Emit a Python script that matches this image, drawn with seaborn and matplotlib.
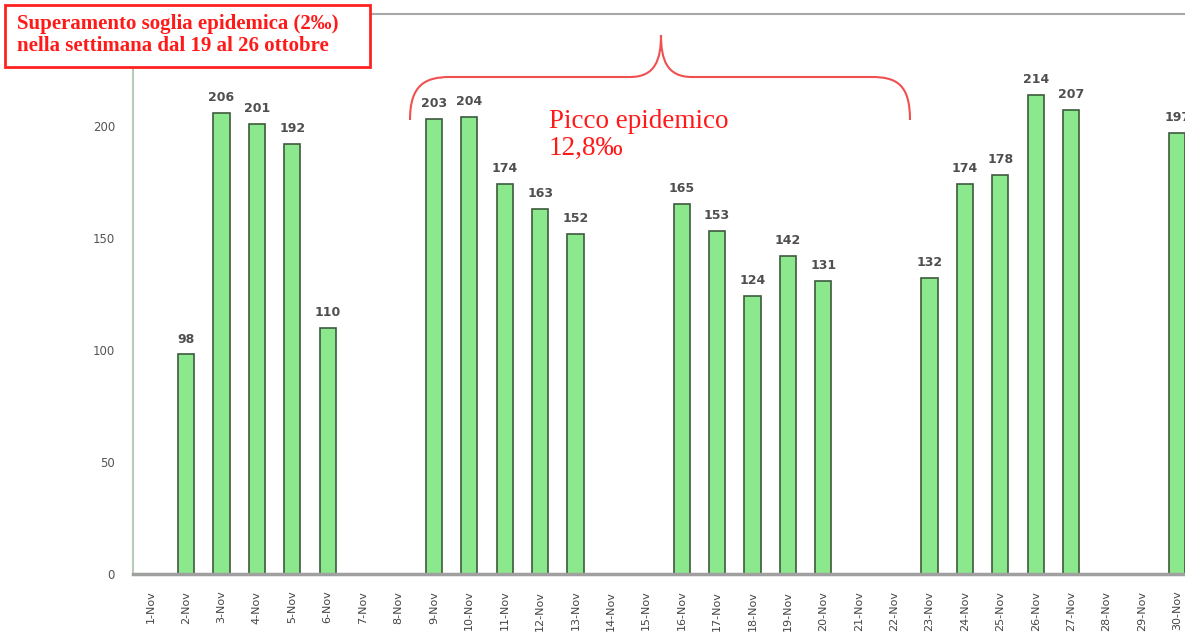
import numpy as np
import pandas as pd
import matplotlib
matplotlib.use("Agg")
import matplotlib.pyplot as plt
import matplotlib.patches as mpatches
from matplotlib.path import Path
import matplotlib.transforms as mtransforms
import seaborn as sns

# ---- data ----
days = [f"{d}-Nov" for d in range(1, 31)]
cases = [np.nan, 98, 206, 201, 192, 110, np.nan, np.nan, 203, 204,
         174, 163, 152, np.nan, np.nan, 165, 153, 124, 142, 131,
         np.nan, np.nan, 132, 174, 178, 214, 207, np.nan, np.nan, 197]
y_ticks = [0, 50, 100, 150, 200]
box_text = "Superamento soglia epidemica (2‰)\nnella settimana dal 19 al 26 ottobre"
peak_text = "Picco epidemico\n12,8‰"

df = pd.DataFrame({"day": days, "cases": cases})

sns.set_style("white")
plt.rcParams["font.family"] = ["DejaVu Sans"]

W, H = 1185, 637
fig = plt.figure(figsize=(W / 100, H / 100), dpi=100)
# axes spans pixel x 133..1195 (slightly beyond right edge), y 14..574
ax = fig.add_axes([133 / W, (H - 574) / H, (1195 - 133) / W, (574 - 14) / H])

sns.barplot(data=df, x="day", y="cases", order=days, ax=ax,
            color="#8ce88c", edgecolor="#3d5a3d", linewidth=1.2,
            width=0.46, saturation=1, errorbar=None)

for i, v in enumerate(cases):
    if not np.isnan(v):
        ax.text(i, v + 4, f"{int(v)}", ha="center", va="bottom",
                fontsize=9, color="#4f4f4f", fontweight="bold")

ax.set_xlim(-0.5, 29.5)
ax.set_ylim(0, 250)
ax.set_yticks(y_ticks)
ax.set_yticklabels([str(t) for t in y_ticks], fontsize=8.5, color="#555555")
ax.set_xticks(range(len(days)))
ax.set_xticklabels(days, rotation=90, fontsize=8, color="#444444")
ax.set_xlabel("")
ax.set_ylabel("")
ax.tick_params(axis="x", length=0, pad=12)
ax.tick_params(axis="y", length=3, width=1.2, color="#aaaaaa", direction="out", pad=10)
ax.set_xticks(np.arange(-0.5, 30, 1), minor=True)
ax.tick_params(axis="x", which="minor", length=4, width=1.2, color="#aaaaaa", direction="inout")

ax.spines["top"].set_color("#a8a8a8")
ax.spines["top"].set_linewidth(1.5)
ax.spines["left"].set_color("#b8ccb8")
ax.spines["left"].set_linewidth(1.5)
ax.spines["bottom"].set_color("#a0a0a0")
ax.spines["bottom"].set_linewidth(2.5)
ax.spines["right"].set_visible(False)
ax.grid(False)

# pixel transform (origin top-left)
px = mtransforms.Affine2D().scale(1 / W, -1 / H).translate(0, 1) + fig.transFigure

# curly brace
verts = [
    (410, 120),
    (410, 85), (425, 77), (450, 77),
    (630, 77),
    (655, 77), (661, 60), (661, 35),
    (661, 60), (667, 77), (692, 77),
    (872, 77),
    (897, 77), (910, 85), (910, 120),
]
codes = [Path.MOVETO,
         Path.CURVE4, Path.CURVE4, Path.CURVE4,
         Path.LINETO,
         Path.CURVE4, Path.CURVE4, Path.CURVE4,
         Path.CURVE4, Path.CURVE4, Path.CURVE4,
         Path.LINETO,
         Path.CURVE4, Path.CURVE4, Path.CURVE4]
brace = mpatches.PathPatch(Path(verts, codes), facecolor="none",
                           edgecolor="#f05050", linewidth=1.5,
                           transform=px, clip_on=False)
fig.add_artist(brace)

fig.text(549 / W, 1 - 135 / H, peak_text, transform=fig.transFigure,
         ha="left", va="center", fontsize=19.5, color="#ff1a1a",
         family=["Liberation Serif", "DejaVu Serif"], linespacing=1.1)

# top-left box
rect = mpatches.Rectangle((5, 67), 365, -62, transform=px, facecolor="white",
                          edgecolor="#ff2020", linewidth=2, clip_on=False, zorder=5)
fig.add_artist(rect)
fig.text(17 / W, 1 - 35 / H, box_text, ha="left", va="center", fontsize=15,
         color="#ff1a1a", fontweight="bold",
         family=["Liberation Serif", "DejaVu Serif"], linespacing=1.15, zorder=6)

fig.savefig("out.png", dpi=100, facecolor="white")
